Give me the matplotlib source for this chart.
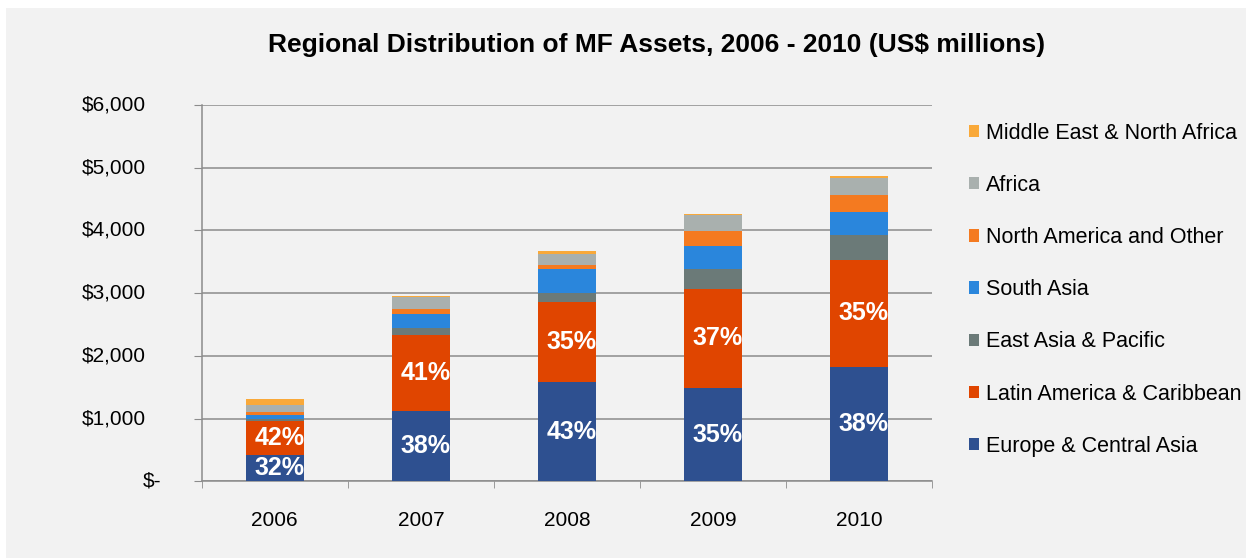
import matplotlib
matplotlib.use("Agg")
import matplotlib.pyplot as plt
from matplotlib.patches import Rectangle
import matplotlib.transforms as mtransforms
import numpy as np

plt.rcParams['font.family'] = ['Liberation Sans', 'DejaVu Sans']

years = ["2006", "2007", "2008", "2009", "2010"]
series_names = ["Europe & Central Asia", "Latin America & Caribbean", "East Asia & Pacific",
                "South Asia", "North America and Other", "Africa", "Middle East & North Africa"]
europe = [415, 1125, 1580, 1490, 1830]
latin = [550, 1210, 1285, 1580, 1700]
east_asia = [35, 105, 140, 310, 405]
south_asia = [50, 230, 385, 375, 365]
north_america = [50, 75, 55, 235, 270]
africa = [110, 195, 180, 250, 260]
mena = [97, 20, 45, 25, 30]
europe_pct = ["32%", "38%", "43%", "35%", "38%"]
latin_pct = ["42%", "41%", "35%", "37%", "35%"]
yticks = [0, 1000, 2000, 3000, 4000, 5000, 6000]
ytick_labels = ["$-", "$1,000", "$2,000", "$3,000", "$4,000", "$5,000", "$6,000"]
title = "Regional Distribution of MF Assets, 2006 - 2010 (US$ millions)"

colors = ["#2E5090", "#E04500", "#6B7A78", "#2A86DC", "#F47A20", "#A9B0AE", "#F9A93A"]
data = [europe, latin, east_asia, south_asia, north_america, africa, mena]

fig = plt.figure(figsize=(12.46, 5.58), dpi=100, facecolor="white")
fig.patches.append(Rectangle((6 / 1246, 0), 1 - 6 / 1246, 1 - 8 / 558, transform=fig.transFigure,
                             facecolor="#F2F2F2", edgecolor="none", zorder=-10))

ax = fig.add_axes([201.7 / 1246, 1 - 481.3 / 558, (932.3 - 201.7) / 1246, (481.3 - 105) / 558])
ax.set_facecolor("none")

x = np.arange(len(years))
bottom = np.zeros(len(years))
handles = []
for name, vals, c in zip(series_names, data, colors):
    h = ax.bar(x, vals, width=0.4, bottom=bottom, color=c, label=name, zorder=3)
    handles.append(h)
    bottom += np.array(vals)

for i in range(len(years)):
    ax.text(x[i] + 0.03, europe[i] / 2, europe_pct[i], ha="center", va="center", color="white",
            fontsize=18, fontweight="bold", zorder=4)
    ax.text(x[i] + 0.03, europe[i] + latin[i] / 2, latin_pct[i], ha="center", va="center", color="white",
            fontsize=18, fontweight="bold", zorder=4)

ax.set_xlim(-0.5, len(years) - 0.5)
ax.set_ylim(0, 6000)
ax.set_yticks(yticks)
ax.set_yticklabels([])
# y tick labels in accounting style
base = ax.get_yaxis_transform()
for v, lab in zip(yticks, ytick_labels):
    if lab == "$-":
        off = mtransforms.ScaledTranslation(-40 / 100, 0, fig.dpi_scale_trans)
    else:
        off = mtransforms.ScaledTranslation(-56 / 100, 0, fig.dpi_scale_trans)
    ax.text(0, v, lab, transform=base + off, ha="right", va="center", fontsize=15)

ax.set_xticks(x)
ax.set_xticklabels(years, fontsize=15)
ax.tick_params(axis="x", length=0, pad=21.5)
ax.set_xticks(np.arange(-0.5, len(years)), minor=True)
ax.tick_params(axis="x", which="minor", length=5, color="#8C8C8C", direction="out")
ax.tick_params(axis="y", length=6, color="#8C8C8C")
ax.yaxis.grid(True, color="#8C8C8C", linewidth=1.1, zorder=0)
for s in ["top", "right"]:
    ax.spines[s].set_visible(False)
for s in ["left", "bottom"]:
    ax.spines[s].set_color("#8C8C8C")
    ax.spines[s].set_linewidth(1.1)

fig.text(657 / 1246, 1 - 45 / 558, title, ha="center", va="center", fontsize=19, fontweight="bold")

leg = ax.legend(handles[::-1], series_names[::-1], loc="upper left",
                bbox_to_anchor=(960 / 1246, 1 - 114 / 558), bbox_transform=fig.transFigure,
                frameon=False, fontsize=15.5, handlelength=0.5, handleheight=0.5,
                handletextpad=0.3, labelspacing=1.45, borderaxespad=0)

fig.savefig("out.png", dpi=100, facecolor=fig.get_facecolor())
